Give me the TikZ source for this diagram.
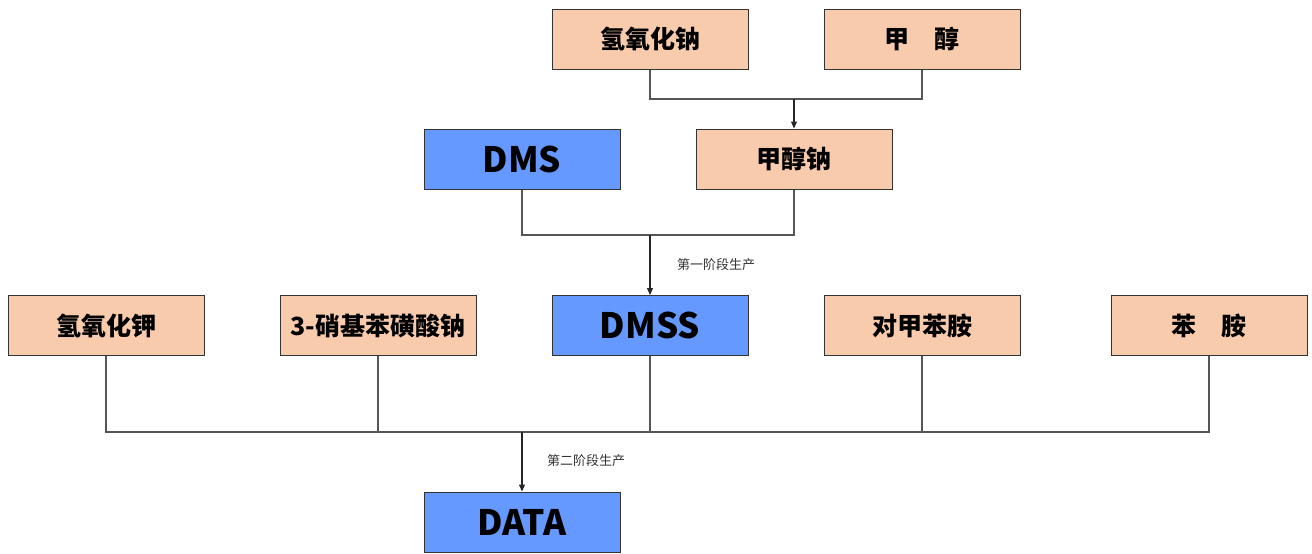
\documentclass[tikz,border=0pt]{standalone}
\usepackage{fontspec}
\setmainfont{Noto Sans CJK SC}
\usetikzlibrary{arrows.meta}
\definecolor{peach}{HTML}{F8CBAD}
\definecolor{bluebox}{HTML}{6699FF}
\definecolor{linegray}{HTML}{555555}
\begin{document}
\begin{tikzpicture}[x=1pt,y=-1pt,
  box/.style={draw=black!80,line width=1pt,minimum width=196pt,minimum height=60pt,inner sep=0pt,font=\fontsize{25}{30}\selectfont\bfseries},
  raw/.style={box,fill=peach},
  prod/.style={box,fill=bluebox,font=\fontsize{35}{40}\selectfont\bfseries},
  conn/.style={draw=linegray,line width=1.2pt},
  arr/.style={conn,draw=black!85,-{Triangle[length=7pt,width=6pt]}},
  lbl/.style={font=\fontsize{13}{15}\selectfont,text=black!80,inner sep=0pt}]
\useasboundingbox (0,0) rectangle (1312,554);
\node[raw] (naoh) at (650,39) {氢氧化钠};
\node[raw] (meoh) at (922,39) {甲\hspace{1em}醇};
\node[prod] (dms) at (522,159) {DMS};
\node[raw] (meona) at (794,159) {甲醇钠};
\node[raw] (koh) at (106,325.5) {氢氧化钾};
\node[raw] (nbs) at (378,325.5) {3-硝基苯磺酸钠};
\node[prod] (dmss) at (650,325.5) {DMSS};
\node[raw] (pt) at (922,325.5) {对甲苯胺};
\node[raw] (an) at (1209,325.5) {苯\hspace{1em}胺};
\node[prod] (data) at (522,522) {DATA};
\coordinate (j1) at (794,99);
\coordinate (j2) at (650,235);
\coordinate (j3) at (522,432);
\draw[conn] (naoh.south) |- (meoh.south |- j1) -- (meoh.south);
\draw[arr] (j1) -- (meona.north);
\draw[conn] (dms.south) |- (meona.south |- j2) -- (meona.south);
\draw[arr] (j2) -- (dmss.north);
\draw[conn] (koh.south) |- (an.south |- j3) -- (an.south);
\draw[conn] (nbs.south) -- (nbs.south |- j3);
\draw[conn] (dmss.south) -- (dmss.south |- j3);
\draw[conn] (pt.south) -- (pt.south |- j3);
\draw[arr] (j3) -- (data.north);
\node[lbl,anchor=west] (l1) at (677,265) {第一阶段生产};
\node[lbl,anchor=west] (l2) at (547,461) {第二阶段生产};
\end{tikzpicture}
\end{document}
